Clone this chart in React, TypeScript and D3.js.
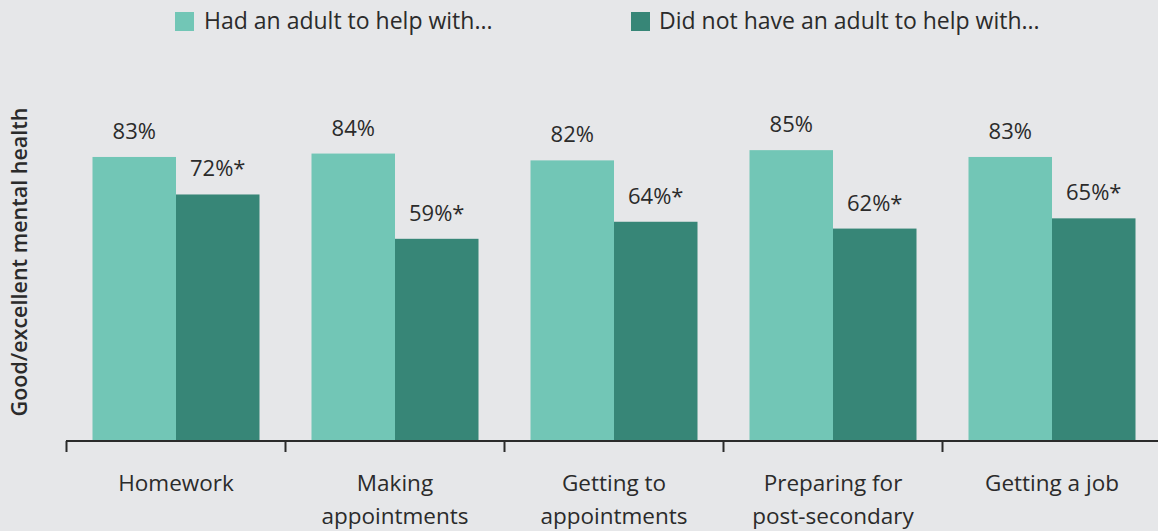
import React from "react";
import * as d3 from "d3";

const categories: string[][] = [
  ["Homework"],
  ["Making", "appointments"],
  ["Getting to", "appointments"],
  ["Preparing for", "post-secondary"],
  ["Getting a job"],
];
const hadAdult = [83, 84, 82, 85, 83];
const noAdult = [72, 59, 64, 62, 65];
const noAdultLabels = ["72%*", "59%*", "64%*", "62%*", "65%*"];
const seriesNames = ["Had an adult to help with...", "Did not have an adult to help with..."];
const yLabel = "Good/excellent mental health";

const W = 1158;
const H = 531;
const LIGHT = "#72c6b6";
const DARK = "#378677";
const BG = "#e6e7e9";
const TEXT = "#2b2b2b";
const FONT = "'Open Sans', 'Noto Sans', sans-serif";

export default function App() {
  const x = d3
    .scaleBand<number>()
    .domain(d3.range(categories.length))
    .range([66.5, 66.5 + 219 * 5])
    .paddingInner(0)
    .paddingOuter(0);
  const step = x.bandwidth();
  const pad = 26;
  const barW = (step - 2 * pad) / 2;
  const y = d3.scaleLinear().domain([0, 100]).range([440, 99]);

  return (
    <svg
      width={W}
      height={H}
      style={{ position: "absolute", left: 0, top: 0, background: BG, fontFamily: FONT }}
    >
      <rect x={0} y={0} width={W} height={H} fill={BG} />
      {/* legend */}
      <rect x={175} y={12} width={19} height={19} fill={LIGHT} />
      <text x={204} y={29} fontSize={23} fill={TEXT}>{seriesNames[0]}</text>
      <rect x={631} y={12} width={19} height={19} fill={DARK} />
      <text x={659} y={29} fontSize={23} fill={TEXT}>{seriesNames[1]}</text>

      {/* y label */}
      <text
        transform={`translate(27,${262}) rotate(-90)`}
        textAnchor="middle"
        fontSize={21.5}
        fontWeight={600}
        fill={TEXT}
      >
        {yLabel}
      </text>

      {categories.map((cat, i) => {
        const gx = x(i)!;
        const lx = gx + pad;
        const dx = lx + barW;
        return (
          <g key={i}>
            <rect x={lx} y={y(hadAdult[i])} width={barW} height={y(0) - y(hadAdult[i])} fill={LIGHT} />
            <rect x={dx} y={y(noAdult[i])} width={barW} height={y(0) - y(noAdult[i])} fill={DARK} />
            <text x={lx + barW / 2} y={y(hadAdult[i]) - 18} textAnchor="middle" fontSize={22} fill={TEXT}>
              {hadAdult[i]}%
            </text>
            <text x={dx + barW / 2} y={y(noAdult[i]) - 18} textAnchor="middle" fontSize={22} fill={TEXT}>
              {noAdultLabels[i]}
            </text>
            {cat.map((line, j) => (
              <text key={j} x={gx + step / 2} y={491 + j * 33} textAnchor="middle" fontSize={22.5} fill={TEXT}>
                {line}
              </text>
            ))}
            <line x1={gx} x2={gx} y1={441} y2={452} stroke={TEXT} strokeWidth={2} />
          </g>
        );
      })}
      <line x1={66} x2={W} y1={441} y2={441} stroke={TEXT} strokeWidth={2} />
    </svg>
  );
}
